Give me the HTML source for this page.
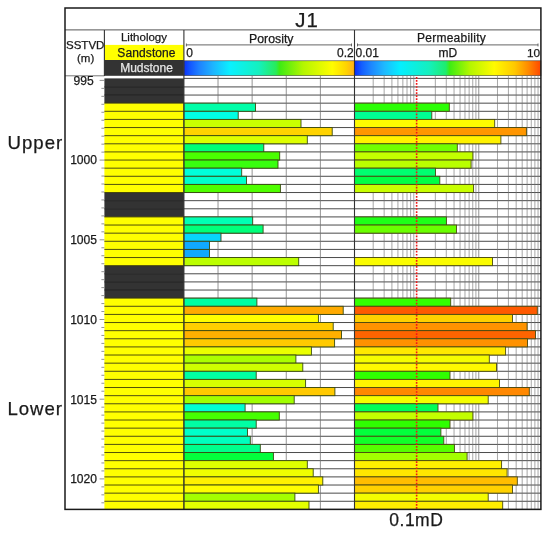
<!DOCTYPE html>
<html><head><meta charset="utf-8"><title>J1 well log</title>
<style>html,body{margin:0;padding:0;background:#fff}svg{display:block;will-change:transform;-webkit-font-smoothing:antialiased}</style></head>
<body>
<svg width="550" height="533" viewBox="0 0 550 533" font-family="Liberation Sans, Arial, sans-serif">
<defs>
<linearGradient id="gpor" x1="0" x2="1" y1="0" y2="0">
<stop offset="0.000" stop-color="#0a32fa"/>
<stop offset="0.040" stop-color="#145aff"/>
<stop offset="0.090" stop-color="#1e82ff"/>
<stop offset="0.170" stop-color="#1eb4ff"/>
<stop offset="0.270" stop-color="#0af0ff"/>
<stop offset="0.440" stop-color="#14f0be"/>
<stop offset="0.540" stop-color="#28eb5a"/>
<stop offset="0.560" stop-color="#3ceb14"/>
<stop offset="0.700" stop-color="#b4f600"/>
<stop offset="0.870" stop-color="#fffc00"/>
<stop offset="0.950" stop-color="#ffd400"/>
<stop offset="1.000" stop-color="#ffac18"/>
</linearGradient>
<linearGradient id="gperm" x1="0" x2="1" y1="0" y2="0">
<stop offset="0.000" stop-color="#0a2dfa"/>
<stop offset="0.040" stop-color="#145fff"/>
<stop offset="0.090" stop-color="#1e87ff"/>
<stop offset="0.160" stop-color="#1eb9ff"/>
<stop offset="0.245" stop-color="#05eeff"/>
<stop offset="0.400" stop-color="#14f0be"/>
<stop offset="0.490" stop-color="#1eec6e"/>
<stop offset="0.510" stop-color="#3cec14"/>
<stop offset="0.620" stop-color="#b4f600"/>
<stop offset="0.750" stop-color="#fffa00"/>
<stop offset="0.860" stop-color="#ffc800"/>
<stop offset="0.930" stop-color="#ff8c00"/>
<stop offset="1.000" stop-color="#ff4600"/>
</linearGradient>
</defs>
<rect width="550" height="533" fill="#fff"/>
<line x1="183.9" x2="540.9" y1="78.40" y2="78.40" stroke="#2a2a2a" stroke-width="0.85"/>
<line x1="183.9" x2="540.9" y1="86.92" y2="86.92" stroke="#2a2a2a" stroke-width="0.85"/>
<line x1="183.9" x2="540.9" y1="95.05" y2="95.05" stroke="#2a2a2a" stroke-width="0.85"/>
<line x1="183.9" x2="540.9" y1="103.17" y2="103.17" stroke="#2a2a2a" stroke-width="0.85"/>
<line x1="183.9" x2="540.9" y1="111.30" y2="111.30" stroke="#2a2a2a" stroke-width="0.85"/>
<line x1="183.9" x2="540.9" y1="119.42" y2="119.42" stroke="#2a2a2a" stroke-width="0.85"/>
<line x1="183.9" x2="540.9" y1="127.55" y2="127.55" stroke="#2a2a2a" stroke-width="0.85"/>
<line x1="183.9" x2="540.9" y1="135.67" y2="135.67" stroke="#2a2a2a" stroke-width="0.85"/>
<line x1="183.9" x2="540.9" y1="143.80" y2="143.80" stroke="#2a2a2a" stroke-width="0.85"/>
<line x1="183.9" x2="540.9" y1="151.92" y2="151.92" stroke="#2a2a2a" stroke-width="0.85"/>
<line x1="183.9" x2="540.9" y1="160.05" y2="160.05" stroke="#2a2a2a" stroke-width="0.85"/>
<line x1="183.9" x2="540.9" y1="168.17" y2="168.17" stroke="#2a2a2a" stroke-width="0.85"/>
<line x1="183.9" x2="540.9" y1="176.29" y2="176.29" stroke="#2a2a2a" stroke-width="0.85"/>
<line x1="183.9" x2="540.9" y1="184.42" y2="184.42" stroke="#2a2a2a" stroke-width="0.85"/>
<line x1="183.9" x2="540.9" y1="192.54" y2="192.54" stroke="#2a2a2a" stroke-width="0.85"/>
<line x1="183.9" x2="540.9" y1="200.67" y2="200.67" stroke="#2a2a2a" stroke-width="0.85"/>
<line x1="183.9" x2="540.9" y1="208.79" y2="208.79" stroke="#2a2a2a" stroke-width="0.85"/>
<line x1="183.9" x2="540.9" y1="216.92" y2="216.92" stroke="#2a2a2a" stroke-width="0.85"/>
<line x1="183.9" x2="540.9" y1="225.04" y2="225.04" stroke="#2a2a2a" stroke-width="0.85"/>
<line x1="183.9" x2="540.9" y1="233.17" y2="233.17" stroke="#2a2a2a" stroke-width="0.85"/>
<line x1="183.9" x2="540.9" y1="241.29" y2="241.29" stroke="#2a2a2a" stroke-width="0.85"/>
<line x1="183.9" x2="540.9" y1="249.42" y2="249.42" stroke="#2a2a2a" stroke-width="0.85"/>
<line x1="183.9" x2="540.9" y1="257.54" y2="257.54" stroke="#2a2a2a" stroke-width="0.85"/>
<line x1="183.9" x2="540.9" y1="265.66" y2="265.66" stroke="#2a2a2a" stroke-width="0.85"/>
<line x1="183.9" x2="540.9" y1="273.79" y2="273.79" stroke="#2a2a2a" stroke-width="0.85"/>
<line x1="183.9" x2="540.9" y1="281.91" y2="281.91" stroke="#2a2a2a" stroke-width="0.85"/>
<line x1="183.9" x2="540.9" y1="290.04" y2="290.04" stroke="#2a2a2a" stroke-width="0.85"/>
<line x1="183.9" x2="540.9" y1="298.16" y2="298.16" stroke="#2a2a2a" stroke-width="0.85"/>
<line x1="183.9" x2="540.9" y1="306.29" y2="306.29" stroke="#2a2a2a" stroke-width="0.85"/>
<line x1="183.9" x2="540.9" y1="314.41" y2="314.41" stroke="#2a2a2a" stroke-width="0.85"/>
<line x1="183.9" x2="540.9" y1="322.54" y2="322.54" stroke="#2a2a2a" stroke-width="0.85"/>
<line x1="183.9" x2="540.9" y1="330.66" y2="330.66" stroke="#2a2a2a" stroke-width="0.85"/>
<line x1="183.9" x2="540.9" y1="338.78" y2="338.78" stroke="#2a2a2a" stroke-width="0.85"/>
<line x1="183.9" x2="540.9" y1="346.91" y2="346.91" stroke="#2a2a2a" stroke-width="0.85"/>
<line x1="183.9" x2="540.9" y1="355.03" y2="355.03" stroke="#2a2a2a" stroke-width="0.85"/>
<line x1="183.9" x2="540.9" y1="363.16" y2="363.16" stroke="#2a2a2a" stroke-width="0.85"/>
<line x1="183.9" x2="540.9" y1="371.28" y2="371.28" stroke="#2a2a2a" stroke-width="0.85"/>
<line x1="183.9" x2="540.9" y1="379.41" y2="379.41" stroke="#2a2a2a" stroke-width="0.85"/>
<line x1="183.9" x2="540.9" y1="387.53" y2="387.53" stroke="#2a2a2a" stroke-width="0.85"/>
<line x1="183.9" x2="540.9" y1="395.66" y2="395.66" stroke="#2a2a2a" stroke-width="0.85"/>
<line x1="183.9" x2="540.9" y1="403.78" y2="403.78" stroke="#2a2a2a" stroke-width="0.85"/>
<line x1="183.9" x2="540.9" y1="411.91" y2="411.91" stroke="#2a2a2a" stroke-width="0.85"/>
<line x1="183.9" x2="540.9" y1="420.03" y2="420.03" stroke="#2a2a2a" stroke-width="0.85"/>
<line x1="183.9" x2="540.9" y1="428.15" y2="428.15" stroke="#2a2a2a" stroke-width="0.85"/>
<line x1="183.9" x2="540.9" y1="436.28" y2="436.28" stroke="#2a2a2a" stroke-width="0.85"/>
<line x1="183.9" x2="540.9" y1="444.40" y2="444.40" stroke="#2a2a2a" stroke-width="0.85"/>
<line x1="183.9" x2="540.9" y1="452.53" y2="452.53" stroke="#2a2a2a" stroke-width="0.85"/>
<line x1="183.9" x2="540.9" y1="460.65" y2="460.65" stroke="#2a2a2a" stroke-width="0.85"/>
<line x1="183.9" x2="540.9" y1="468.78" y2="468.78" stroke="#2a2a2a" stroke-width="0.85"/>
<line x1="183.9" x2="540.9" y1="476.90" y2="476.90" stroke="#2a2a2a" stroke-width="0.85"/>
<line x1="183.9" x2="540.9" y1="485.03" y2="485.03" stroke="#2a2a2a" stroke-width="0.85"/>
<line x1="183.9" x2="540.9" y1="493.15" y2="493.15" stroke="#2a2a2a" stroke-width="0.85"/>
<line x1="183.9" x2="540.9" y1="501.28" y2="501.28" stroke="#2a2a2a" stroke-width="0.85"/>
<line x1="183.9" x2="540.9" y1="509.40" y2="509.40" stroke="#2a2a2a" stroke-width="0.85"/>
<line x1="218.02" x2="218.02" y1="76.0" y2="509.4" stroke="#707070" stroke-width="0.75"/>
<line x1="252.14" x2="252.14" y1="76.0" y2="509.4" stroke="#707070" stroke-width="0.75"/>
<line x1="286.26" x2="286.26" y1="76.0" y2="509.4" stroke="#707070" stroke-width="0.75"/>
<line x1="320.38" x2="320.38" y1="76.0" y2="509.4" stroke="#707070" stroke-width="0.75"/>
<line x1="373.20" x2="373.20" y1="76.0" y2="509.4" stroke="#707070" stroke-width="0.62"/>
<line x1="384.15" x2="384.15" y1="76.0" y2="509.4" stroke="#707070" stroke-width="0.62"/>
<line x1="391.91" x2="391.91" y1="76.0" y2="509.4" stroke="#707070" stroke-width="0.62"/>
<line x1="397.93" x2="397.93" y1="76.0" y2="509.4" stroke="#707070" stroke-width="0.62"/>
<line x1="402.85" x2="402.85" y1="76.0" y2="509.4" stroke="#707070" stroke-width="0.62"/>
<line x1="407.01" x2="407.01" y1="76.0" y2="509.4" stroke="#707070" stroke-width="0.62"/>
<line x1="410.61" x2="410.61" y1="76.0" y2="509.4" stroke="#707070" stroke-width="0.62"/>
<line x1="413.79" x2="413.79" y1="76.0" y2="509.4" stroke="#707070" stroke-width="0.62"/>
<line x1="435.34" x2="435.34" y1="76.0" y2="509.4" stroke="#707070" stroke-width="0.62"/>
<line x1="446.28" x2="446.28" y1="76.0" y2="509.4" stroke="#707070" stroke-width="0.62"/>
<line x1="454.04" x2="454.04" y1="76.0" y2="509.4" stroke="#707070" stroke-width="0.62"/>
<line x1="460.06" x2="460.06" y1="76.0" y2="509.4" stroke="#707070" stroke-width="0.62"/>
<line x1="464.98" x2="464.98" y1="76.0" y2="509.4" stroke="#707070" stroke-width="0.62"/>
<line x1="469.14" x2="469.14" y1="76.0" y2="509.4" stroke="#707070" stroke-width="0.62"/>
<line x1="472.75" x2="472.75" y1="76.0" y2="509.4" stroke="#707070" stroke-width="0.62"/>
<line x1="475.92" x2="475.92" y1="76.0" y2="509.4" stroke="#707070" stroke-width="0.62"/>
<line x1="478.77" x2="478.77" y1="76.0" y2="509.4" stroke="#707070" stroke-width="0.75"/>
<line x1="497.47" x2="497.47" y1="76.0" y2="509.4" stroke="#707070" stroke-width="0.62"/>
<line x1="508.41" x2="508.41" y1="76.0" y2="509.4" stroke="#707070" stroke-width="0.62"/>
<line x1="516.17" x2="516.17" y1="76.0" y2="509.4" stroke="#707070" stroke-width="0.62"/>
<line x1="522.20" x2="522.20" y1="76.0" y2="509.4" stroke="#707070" stroke-width="0.62"/>
<line x1="527.12" x2="527.12" y1="76.0" y2="509.4" stroke="#707070" stroke-width="0.62"/>
<line x1="531.28" x2="531.28" y1="76.0" y2="509.4" stroke="#707070" stroke-width="0.62"/>
<line x1="534.88" x2="534.88" y1="76.0" y2="509.4" stroke="#707070" stroke-width="0.62"/>
<line x1="538.06" x2="538.06" y1="76.0" y2="509.4" stroke="#707070" stroke-width="0.62"/>
<rect x="104.4" y="78.40" width="79.5" height="8.52" fill="#333" />
<rect x="104.4" y="86.92" width="79.5" height="8.12" fill="#333" />
<rect x="104.4" y="95.05" width="79.5" height="8.12" fill="#333" />
<rect x="104.4" y="103.17" width="79.5" height="8.12" fill="#ffff00"/>
<rect x="104.4" y="111.30" width="79.5" height="8.12" fill="#ffff00"/>
<rect x="104.4" y="119.42" width="79.5" height="8.12" fill="#ffff00"/>
<rect x="104.4" y="127.55" width="79.5" height="8.12" fill="#ffff00"/>
<rect x="104.4" y="135.67" width="79.5" height="8.12" fill="#ffff00"/>
<rect x="104.4" y="143.80" width="79.5" height="8.12" fill="#ffff00"/>
<rect x="104.4" y="151.92" width="79.5" height="8.12" fill="#ffff00"/>
<rect x="104.4" y="160.05" width="79.5" height="8.12" fill="#ffff00"/>
<rect x="104.4" y="168.17" width="79.5" height="8.12" fill="#ffff00"/>
<rect x="104.4" y="176.29" width="79.5" height="8.12" fill="#ffff00"/>
<rect x="104.4" y="184.42" width="79.5" height="8.12" fill="#ffff00"/>
<rect x="104.4" y="192.54" width="79.5" height="8.12" fill="#333" />
<rect x="104.4" y="200.67" width="79.5" height="8.12" fill="#333" />
<rect x="104.4" y="208.79" width="79.5" height="8.12" fill="#333" />
<rect x="104.4" y="216.92" width="79.5" height="8.12" fill="#ffff00"/>
<rect x="104.4" y="225.04" width="79.5" height="8.12" fill="#ffff00"/>
<rect x="104.4" y="233.17" width="79.5" height="8.12" fill="#ffff00"/>
<rect x="104.4" y="241.29" width="79.5" height="8.12" fill="#ffff00"/>
<rect x="104.4" y="249.42" width="79.5" height="8.12" fill="#ffff00"/>
<rect x="104.4" y="257.54" width="79.5" height="8.12" fill="#ffff00"/>
<rect x="104.4" y="265.66" width="79.5" height="8.12" fill="#333" />
<rect x="104.4" y="273.79" width="79.5" height="8.12" fill="#333" />
<rect x="104.4" y="281.91" width="79.5" height="8.12" fill="#333" />
<rect x="104.4" y="290.04" width="79.5" height="8.12" fill="#333" />
<rect x="104.4" y="298.16" width="79.5" height="8.12" fill="#ffff00"/>
<rect x="104.4" y="306.29" width="79.5" height="8.12" fill="#ffff00"/>
<rect x="104.4" y="314.41" width="79.5" height="8.12" fill="#ffff00"/>
<rect x="104.4" y="322.54" width="79.5" height="8.12" fill="#ffff00"/>
<rect x="104.4" y="330.66" width="79.5" height="8.12" fill="#ffff00"/>
<rect x="104.4" y="338.78" width="79.5" height="8.12" fill="#ffff00"/>
<rect x="104.4" y="346.91" width="79.5" height="8.12" fill="#ffff00"/>
<rect x="104.4" y="355.03" width="79.5" height="8.12" fill="#ffff00"/>
<rect x="104.4" y="363.16" width="79.5" height="8.12" fill="#ffff00"/>
<rect x="104.4" y="371.28" width="79.5" height="8.12" fill="#ffff00"/>
<rect x="104.4" y="379.41" width="79.5" height="8.12" fill="#ffff00"/>
<rect x="104.4" y="387.53" width="79.5" height="8.12" fill="#ffff00"/>
<rect x="104.4" y="395.66" width="79.5" height="8.12" fill="#ffff00"/>
<rect x="104.4" y="403.78" width="79.5" height="8.12" fill="#ffff00"/>
<rect x="104.4" y="411.91" width="79.5" height="8.12" fill="#ffff00"/>
<rect x="104.4" y="420.03" width="79.5" height="8.12" fill="#ffff00"/>
<rect x="104.4" y="428.15" width="79.5" height="8.12" fill="#ffff00"/>
<rect x="104.4" y="436.28" width="79.5" height="8.12" fill="#ffff00"/>
<rect x="104.4" y="444.40" width="79.5" height="8.12" fill="#ffff00"/>
<rect x="104.4" y="452.53" width="79.5" height="8.12" fill="#ffff00"/>
<rect x="104.4" y="460.65" width="79.5" height="8.12" fill="#ffff00"/>
<rect x="104.4" y="468.78" width="79.5" height="8.12" fill="#ffff00"/>
<rect x="104.4" y="476.90" width="79.5" height="8.12" fill="#ffff00"/>
<rect x="104.4" y="485.03" width="79.5" height="8.12" fill="#ffff00"/>
<rect x="104.4" y="493.15" width="79.5" height="8.12" fill="#ffff00"/>
<rect x="104.4" y="501.28" width="79.5" height="8.12" fill="#ffff00"/>
<line x1="104.4" x2="183.9" y1="86.92" y2="86.92" stroke="#1d1d1d" stroke-width="0.9"/>
<line x1="104.4" x2="183.9" y1="95.05" y2="95.05" stroke="#1d1d1d" stroke-width="0.9"/>
<line x1="104.4" x2="183.9" y1="103.17" y2="103.17" stroke="#3c3c00" stroke-width="0.9"/>
<line x1="104.4" x2="183.9" y1="111.30" y2="111.30" stroke="#3c3c00" stroke-width="0.9"/>
<line x1="104.4" x2="183.9" y1="119.42" y2="119.42" stroke="#3c3c00" stroke-width="0.9"/>
<line x1="104.4" x2="183.9" y1="127.55" y2="127.55" stroke="#3c3c00" stroke-width="0.9"/>
<line x1="104.4" x2="183.9" y1="135.67" y2="135.67" stroke="#3c3c00" stroke-width="0.9"/>
<line x1="104.4" x2="183.9" y1="143.80" y2="143.80" stroke="#3c3c00" stroke-width="0.9"/>
<line x1="104.4" x2="183.9" y1="151.92" y2="151.92" stroke="#3c3c00" stroke-width="0.9"/>
<line x1="104.4" x2="183.9" y1="160.05" y2="160.05" stroke="#3c3c00" stroke-width="0.9"/>
<line x1="104.4" x2="183.9" y1="168.17" y2="168.17" stroke="#3c3c00" stroke-width="0.9"/>
<line x1="104.4" x2="183.9" y1="176.29" y2="176.29" stroke="#3c3c00" stroke-width="0.9"/>
<line x1="104.4" x2="183.9" y1="184.42" y2="184.42" stroke="#3c3c00" stroke-width="0.9"/>
<line x1="104.4" x2="183.9" y1="192.54" y2="192.54" stroke="#3c3c00" stroke-width="0.9"/>
<line x1="104.4" x2="183.9" y1="200.67" y2="200.67" stroke="#1d1d1d" stroke-width="0.9"/>
<line x1="104.4" x2="183.9" y1="208.79" y2="208.79" stroke="#1d1d1d" stroke-width="0.9"/>
<line x1="104.4" x2="183.9" y1="216.92" y2="216.92" stroke="#3c3c00" stroke-width="0.9"/>
<line x1="104.4" x2="183.9" y1="225.04" y2="225.04" stroke="#3c3c00" stroke-width="0.9"/>
<line x1="104.4" x2="183.9" y1="233.17" y2="233.17" stroke="#3c3c00" stroke-width="0.9"/>
<line x1="104.4" x2="183.9" y1="241.29" y2="241.29" stroke="#3c3c00" stroke-width="0.9"/>
<line x1="104.4" x2="183.9" y1="249.42" y2="249.42" stroke="#3c3c00" stroke-width="0.9"/>
<line x1="104.4" x2="183.9" y1="257.54" y2="257.54" stroke="#3c3c00" stroke-width="0.9"/>
<line x1="104.4" x2="183.9" y1="265.66" y2="265.66" stroke="#3c3c00" stroke-width="0.9"/>
<line x1="104.4" x2="183.9" y1="273.79" y2="273.79" stroke="#1d1d1d" stroke-width="0.9"/>
<line x1="104.4" x2="183.9" y1="281.91" y2="281.91" stroke="#1d1d1d" stroke-width="0.9"/>
<line x1="104.4" x2="183.9" y1="290.04" y2="290.04" stroke="#1d1d1d" stroke-width="0.9"/>
<line x1="104.4" x2="183.9" y1="298.16" y2="298.16" stroke="#3c3c00" stroke-width="0.9"/>
<line x1="104.4" x2="183.9" y1="306.29" y2="306.29" stroke="#3c3c00" stroke-width="0.9"/>
<line x1="104.4" x2="183.9" y1="314.41" y2="314.41" stroke="#3c3c00" stroke-width="0.9"/>
<line x1="104.4" x2="183.9" y1="322.54" y2="322.54" stroke="#3c3c00" stroke-width="0.9"/>
<line x1="104.4" x2="183.9" y1="330.66" y2="330.66" stroke="#3c3c00" stroke-width="0.9"/>
<line x1="104.4" x2="183.9" y1="338.78" y2="338.78" stroke="#3c3c00" stroke-width="0.9"/>
<line x1="104.4" x2="183.9" y1="346.91" y2="346.91" stroke="#3c3c00" stroke-width="0.9"/>
<line x1="104.4" x2="183.9" y1="355.03" y2="355.03" stroke="#3c3c00" stroke-width="0.9"/>
<line x1="104.4" x2="183.9" y1="363.16" y2="363.16" stroke="#3c3c00" stroke-width="0.9"/>
<line x1="104.4" x2="183.9" y1="371.28" y2="371.28" stroke="#3c3c00" stroke-width="0.9"/>
<line x1="104.4" x2="183.9" y1="379.41" y2="379.41" stroke="#3c3c00" stroke-width="0.9"/>
<line x1="104.4" x2="183.9" y1="387.53" y2="387.53" stroke="#3c3c00" stroke-width="0.9"/>
<line x1="104.4" x2="183.9" y1="395.66" y2="395.66" stroke="#3c3c00" stroke-width="0.9"/>
<line x1="104.4" x2="183.9" y1="403.78" y2="403.78" stroke="#3c3c00" stroke-width="0.9"/>
<line x1="104.4" x2="183.9" y1="411.91" y2="411.91" stroke="#3c3c00" stroke-width="0.9"/>
<line x1="104.4" x2="183.9" y1="420.03" y2="420.03" stroke="#3c3c00" stroke-width="0.9"/>
<line x1="104.4" x2="183.9" y1="428.15" y2="428.15" stroke="#3c3c00" stroke-width="0.9"/>
<line x1="104.4" x2="183.9" y1="436.28" y2="436.28" stroke="#3c3c00" stroke-width="0.9"/>
<line x1="104.4" x2="183.9" y1="444.40" y2="444.40" stroke="#3c3c00" stroke-width="0.9"/>
<line x1="104.4" x2="183.9" y1="452.53" y2="452.53" stroke="#3c3c00" stroke-width="0.9"/>
<line x1="104.4" x2="183.9" y1="460.65" y2="460.65" stroke="#3c3c00" stroke-width="0.9"/>
<line x1="104.4" x2="183.9" y1="468.78" y2="468.78" stroke="#3c3c00" stroke-width="0.9"/>
<line x1="104.4" x2="183.9" y1="476.90" y2="476.90" stroke="#3c3c00" stroke-width="0.9"/>
<line x1="104.4" x2="183.9" y1="485.03" y2="485.03" stroke="#3c3c00" stroke-width="0.9"/>
<line x1="104.4" x2="183.9" y1="493.15" y2="493.15" stroke="#3c3c00" stroke-width="0.9"/>
<line x1="104.4" x2="183.9" y1="501.28" y2="501.28" stroke="#3c3c00" stroke-width="0.9"/>
<rect x="183.9" y="103.17" width="71.6" height="8.12" fill="#00ffa8" stroke="#3a4a10" stroke-width="0.9"/>
<rect x="183.9" y="111.30" width="54.3" height="8.12" fill="#00ffe5" stroke="#3a4a10" stroke-width="0.9"/>
<rect x="183.9" y="119.42" width="117.1" height="8.12" fill="#c9ff00" stroke="#3a4a10" stroke-width="0.9"/>
<rect x="183.9" y="127.55" width="148.3" height="8.12" fill="#ffd300" stroke="#3a4a10" stroke-width="0.9"/>
<rect x="183.9" y="135.67" width="123.4" height="8.12" fill="#deff00" stroke="#3a4a10" stroke-width="0.9"/>
<rect x="183.9" y="143.80" width="79.9" height="8.12" fill="#00ff77" stroke="#3a4a10" stroke-width="0.9"/>
<rect x="183.9" y="151.92" width="95.8" height="8.12" fill="#4aff00" stroke="#3a4a10" stroke-width="0.9"/>
<rect x="183.9" y="160.05" width="94.1" height="8.12" fill="#38ff0f" stroke="#3a4a10" stroke-width="0.9"/>
<rect x="183.9" y="168.17" width="57.8" height="8.12" fill="#00ffdb" stroke="#3a4a10" stroke-width="0.9"/>
<rect x="183.9" y="176.29" width="62.6" height="8.12" fill="#00ffcd" stroke="#3a4a10" stroke-width="0.9"/>
<rect x="183.9" y="184.42" width="96.5" height="8.12" fill="#4eff00" stroke="#3a4a10" stroke-width="0.9"/>
<rect x="183.9" y="216.92" width="68.8" height="8.12" fill="#00ffb4" stroke="#3a4a10" stroke-width="0.9"/>
<rect x="183.9" y="225.04" width="79.2" height="8.12" fill="#00ff7b" stroke="#3a4a10" stroke-width="0.9"/>
<rect x="183.9" y="233.17" width="37.1" height="8.12" fill="#08d5fe" stroke="#3a4a10" stroke-width="0.9"/>
<rect x="183.9" y="241.29" width="25.6" height="8.12" fill="#10a9ff" stroke="#3a4a10" stroke-width="0.9"/>
<rect x="183.9" y="249.42" width="25.6" height="8.12" fill="#10a9ff" stroke="#3a4a10" stroke-width="0.9"/>
<rect x="183.9" y="257.54" width="114.8" height="8.12" fill="#bcff00" stroke="#3a4a10" stroke-width="0.9"/>
<rect x="183.9" y="298.16" width="73.0" height="8.12" fill="#00ffa0" stroke="#3a4a10" stroke-width="0.9"/>
<rect x="183.9" y="306.29" width="159.3" height="8.12" fill="#ffaa00" stroke="#3a4a10" stroke-width="0.9"/>
<rect x="183.9" y="314.41" width="134.5" height="8.12" fill="#fffe00" stroke="#3a4a10" stroke-width="0.9"/>
<rect x="183.9" y="322.54" width="149.3" height="8.12" fill="#ffcf00" stroke="#3a4a10" stroke-width="0.9"/>
<rect x="183.9" y="330.66" width="157.6" height="8.12" fill="#ffb000" stroke="#3a4a10" stroke-width="0.9"/>
<rect x="183.9" y="338.78" width="150.7" height="8.12" fill="#ffca00" stroke="#3a4a10" stroke-width="0.9"/>
<rect x="183.9" y="346.91" width="127.5" height="8.12" fill="#eaff00" stroke="#3a4a10" stroke-width="0.9"/>
<rect x="183.9" y="355.03" width="112.0" height="8.12" fill="#abff00" stroke="#3a4a10" stroke-width="0.9"/>
<rect x="183.9" y="363.16" width="118.9" height="8.12" fill="#cfff00" stroke="#3a4a10" stroke-width="0.9"/>
<rect x="183.9" y="371.28" width="72.3" height="8.12" fill="#00ffa4" stroke="#3a4a10" stroke-width="0.9"/>
<rect x="183.9" y="379.41" width="121.7" height="8.12" fill="#d8ff00" stroke="#3a4a10" stroke-width="0.9"/>
<rect x="183.9" y="387.53" width="151.0" height="8.12" fill="#ffc900" stroke="#3a4a10" stroke-width="0.9"/>
<rect x="183.9" y="395.66" width="110.3" height="8.12" fill="#a1ff00" stroke="#3a4a10" stroke-width="0.9"/>
<rect x="183.9" y="403.78" width="61.2" height="8.12" fill="#00ffd1" stroke="#3a4a10" stroke-width="0.9"/>
<rect x="183.9" y="411.91" width="95.4" height="8.12" fill="#46ff01" stroke="#3a4a10" stroke-width="0.9"/>
<rect x="183.9" y="420.03" width="72.3" height="8.12" fill="#00ffa4" stroke="#3a4a10" stroke-width="0.9"/>
<rect x="183.9" y="428.15" width="63.6" height="8.12" fill="#00ffca" stroke="#3a4a10" stroke-width="0.9"/>
<rect x="183.9" y="436.28" width="66.4" height="8.12" fill="#00ffbe" stroke="#3a4a10" stroke-width="0.9"/>
<rect x="183.9" y="444.40" width="76.4" height="8.12" fill="#00ff8c" stroke="#3a4a10" stroke-width="0.9"/>
<rect x="183.9" y="452.53" width="89.5" height="8.12" fill="#03ff3d" stroke="#3a4a10" stroke-width="0.9"/>
<rect x="183.9" y="460.65" width="123.4" height="8.12" fill="#deff00" stroke="#3a4a10" stroke-width="0.9"/>
<rect x="183.9" y="468.78" width="129.3" height="8.12" fill="#f0ff00" stroke="#3a4a10" stroke-width="0.9"/>
<rect x="183.9" y="476.90" width="138.9" height="8.12" fill="#fff100" stroke="#3a4a10" stroke-width="0.9"/>
<rect x="183.9" y="485.03" width="134.5" height="8.12" fill="#fffe00" stroke="#3a4a10" stroke-width="0.9"/>
<rect x="183.9" y="493.15" width="111.0" height="8.12" fill="#a5ff00" stroke="#3a4a10" stroke-width="0.9"/>
<rect x="183.9" y="501.28" width="125.1" height="8.12" fill="#e3ff00" stroke="#3a4a10" stroke-width="0.9"/>
<rect x="354.5" y="103.17" width="94.8" height="8.12" fill="#2cff05" stroke="#4a4a10" stroke-width="0.9"/>
<rect x="354.5" y="111.30" width="77.3" height="8.12" fill="#00ff92" stroke="#4a4a10" stroke-width="0.9"/>
<rect x="354.5" y="119.42" width="140.2" height="8.12" fill="#fdfb00" stroke="#4a4a10" stroke-width="0.9"/>
<rect x="354.5" y="127.55" width="171.9" height="8.12" fill="#ff9600" stroke="#4a4a10" stroke-width="0.9"/>
<rect x="354.5" y="135.67" width="146.4" height="8.12" fill="#fff200" stroke="#4a4a10" stroke-width="0.9"/>
<rect x="354.5" y="143.80" width="102.8" height="8.12" fill="#70ff00" stroke="#4a4a10" stroke-width="0.9"/>
<rect x="354.5" y="151.92" width="118.4" height="8.12" fill="#c3ff00" stroke="#4a4a10" stroke-width="0.9"/>
<rect x="354.5" y="160.05" width="116.6" height="8.12" fill="#b9ff00" stroke="#4a4a10" stroke-width="0.9"/>
<rect x="354.5" y="168.17" width="81.0" height="8.12" fill="#00ff70" stroke="#4a4a10" stroke-width="0.9"/>
<rect x="354.5" y="176.29" width="85.3" height="8.12" fill="#00ff45" stroke="#4a4a10" stroke-width="0.9"/>
<rect x="354.5" y="184.42" width="119.1" height="8.12" fill="#c7ff00" stroke="#4a4a10" stroke-width="0.9"/>
<rect x="354.5" y="216.92" width="91.9" height="8.12" fill="#1eff18" stroke="#4a4a10" stroke-width="0.9"/>
<rect x="354.5" y="225.04" width="102.0" height="8.12" fill="#69ff00" stroke="#4a4a10" stroke-width="0.9"/>
<rect x="354.5" y="257.54" width="138.0" height="8.12" fill="#fafc00" stroke="#4a4a10" stroke-width="0.9"/>
<rect x="354.5" y="298.16" width="96.2" height="8.12" fill="#35ff00" stroke="#4a4a10" stroke-width="0.9"/>
<rect x="354.5" y="306.29" width="182.8" height="8.12" fill="#ff5a00" stroke="#4a4a10" stroke-width="0.9"/>
<rect x="354.5" y="314.41" width="158.0" height="8.12" fill="#ffd100" stroke="#4a4a10" stroke-width="0.9"/>
<rect x="354.5" y="322.54" width="172.6" height="8.12" fill="#ff9300" stroke="#4a4a10" stroke-width="0.9"/>
<rect x="354.5" y="330.66" width="181.0" height="8.12" fill="#ff6400" stroke="#4a4a10" stroke-width="0.9"/>
<rect x="354.5" y="338.78" width="173.0" height="8.12" fill="#ff9200" stroke="#4a4a10" stroke-width="0.9"/>
<rect x="354.5" y="346.91" width="151.1" height="8.12" fill="#ffe900" stroke="#4a4a10" stroke-width="0.9"/>
<rect x="354.5" y="355.03" width="134.8" height="8.12" fill="#f6fd00" stroke="#4a4a10" stroke-width="0.9"/>
<rect x="354.5" y="363.16" width="142.0" height="8.12" fill="#fff900" stroke="#4a4a10" stroke-width="0.9"/>
<rect x="354.5" y="371.28" width="95.5" height="8.12" fill="#2fff01" stroke="#4a4a10" stroke-width="0.9"/>
<rect x="354.5" y="379.41" width="145.0" height="8.12" fill="#fff400" stroke="#4a4a10" stroke-width="0.9"/>
<rect x="354.5" y="387.53" width="174.8" height="8.12" fill="#ff8800" stroke="#4a4a10" stroke-width="0.9"/>
<rect x="354.5" y="395.66" width="133.7" height="8.12" fill="#f4fe00" stroke="#4a4a10" stroke-width="0.9"/>
<rect x="354.5" y="403.78" width="83.5" height="8.12" fill="#00ff57" stroke="#4a4a10" stroke-width="0.9"/>
<rect x="354.5" y="411.91" width="118.4" height="8.12" fill="#c3ff00" stroke="#4a4a10" stroke-width="0.9"/>
<rect x="354.5" y="420.03" width="95.5" height="8.12" fill="#2fff01" stroke="#4a4a10" stroke-width="0.9"/>
<rect x="354.5" y="428.15" width="86.4" height="8.12" fill="#03ff3c" stroke="#4a4a10" stroke-width="0.9"/>
<rect x="354.5" y="436.28" width="89.3" height="8.12" fill="#11ff29" stroke="#4a4a10" stroke-width="0.9"/>
<rect x="354.5" y="444.40" width="99.9" height="8.12" fill="#56ff00" stroke="#4a4a10" stroke-width="0.9"/>
<rect x="354.5" y="452.53" width="112.6" height="8.12" fill="#a3ff00" stroke="#4a4a10" stroke-width="0.9"/>
<rect x="354.5" y="460.65" width="147.1" height="8.12" fill="#fff000" stroke="#4a4a10" stroke-width="0.9"/>
<rect x="354.5" y="468.78" width="152.6" height="8.12" fill="#ffe600" stroke="#4a4a10" stroke-width="0.9"/>
<rect x="354.5" y="476.90" width="162.8" height="8.12" fill="#ffbd00" stroke="#4a4a10" stroke-width="0.9"/>
<rect x="354.5" y="485.03" width="158.0" height="8.12" fill="#ffd100" stroke="#4a4a10" stroke-width="0.9"/>
<rect x="354.5" y="493.15" width="133.7" height="8.12" fill="#f4fe00" stroke="#4a4a10" stroke-width="0.9"/>
<rect x="354.5" y="501.28" width="148.2" height="8.12" fill="#ffee00" stroke="#4a4a10" stroke-width="0.9"/>
<line x1="416.63" x2="416.63" y1="77.0" y2="509.4" stroke="#f01818" stroke-width="1.6" stroke-dasharray="1.7 1.35"/>
<rect x="65.0" y="8.0" width="475.9" height="68.0" fill="#fff"/>
<rect x="104.4" y="44.9" width="79.5" height="15.1" fill="#ffff00"/>
<rect x="104.4" y="60" width="79.5" height="15.8" fill="#333"/>
<rect x="183.9" y="60.8" width="170.6" height="14.9" fill="url(#gpor)" stroke="#444" stroke-width="0.6"/>
<rect x="354.5" y="60.8" width="186.4" height="14.9" fill="url(#gperm)" stroke="#444" stroke-width="0.6"/>
<line x1="65.0" x2="540.9" y1="29.9" y2="29.9" stroke="#555" stroke-width="1"/>
<line x1="65.0" x2="104.4" y1="75.8" y2="75.8" stroke="#777" stroke-width="1"/>
<path d="M186.4 43.5V46.4M186.4 44.9H351.5M351.5 43.5V46.4" stroke="#555" stroke-width="0.9" fill="none"/>
<path d="M357.5 43.5V46.4M357.5 44.9H538.0M538.0 43.5V46.4" stroke="#555" stroke-width="0.9" fill="none"/>
<line x1="104.4" x2="104.4" y1="29.9" y2="76.0" stroke="#333" stroke-width="1.1"/>
<line x1="183.9" x2="183.9" y1="29.9" y2="509.4" stroke="#333" stroke-width="1.1"/>
<line x1="354.5" x2="354.5" y1="29.9" y2="509.4" stroke="#333" stroke-width="1.1"/>
<line x1="99.6" x2="104.4" y1="80.40" y2="80.40" stroke="#777" stroke-width="0.8"/>
<line x1="101.4" x2="104.4" y1="88.37" y2="88.37" stroke="#777" stroke-width="0.8"/>
<line x1="101.4" x2="104.4" y1="96.34" y2="96.34" stroke="#777" stroke-width="0.8"/>
<line x1="101.4" x2="104.4" y1="104.31" y2="104.31" stroke="#777" stroke-width="0.8"/>
<line x1="101.4" x2="104.4" y1="112.28" y2="112.28" stroke="#777" stroke-width="0.8"/>
<line x1="101.4" x2="104.4" y1="120.25" y2="120.25" stroke="#777" stroke-width="0.8"/>
<line x1="101.4" x2="104.4" y1="128.22" y2="128.22" stroke="#777" stroke-width="0.8"/>
<line x1="101.4" x2="104.4" y1="136.19" y2="136.19" stroke="#777" stroke-width="0.8"/>
<line x1="101.4" x2="104.4" y1="144.16" y2="144.16" stroke="#777" stroke-width="0.8"/>
<line x1="101.4" x2="104.4" y1="152.13" y2="152.13" stroke="#777" stroke-width="0.8"/>
<line x1="99.6" x2="104.4" y1="160.10" y2="160.10" stroke="#777" stroke-width="0.8"/>
<line x1="101.4" x2="104.4" y1="168.07" y2="168.07" stroke="#777" stroke-width="0.8"/>
<line x1="101.4" x2="104.4" y1="176.04" y2="176.04" stroke="#777" stroke-width="0.8"/>
<line x1="101.4" x2="104.4" y1="184.01" y2="184.01" stroke="#777" stroke-width="0.8"/>
<line x1="101.4" x2="104.4" y1="191.98" y2="191.98" stroke="#777" stroke-width="0.8"/>
<line x1="101.4" x2="104.4" y1="199.95" y2="199.95" stroke="#777" stroke-width="0.8"/>
<line x1="101.4" x2="104.4" y1="207.92" y2="207.92" stroke="#777" stroke-width="0.8"/>
<line x1="101.4" x2="104.4" y1="215.89" y2="215.89" stroke="#777" stroke-width="0.8"/>
<line x1="101.4" x2="104.4" y1="223.86" y2="223.86" stroke="#777" stroke-width="0.8"/>
<line x1="101.4" x2="104.4" y1="231.83" y2="231.83" stroke="#777" stroke-width="0.8"/>
<line x1="99.6" x2="104.4" y1="239.80" y2="239.80" stroke="#777" stroke-width="0.8"/>
<line x1="101.4" x2="104.4" y1="247.77" y2="247.77" stroke="#777" stroke-width="0.8"/>
<line x1="101.4" x2="104.4" y1="255.74" y2="255.74" stroke="#777" stroke-width="0.8"/>
<line x1="101.4" x2="104.4" y1="263.71" y2="263.71" stroke="#777" stroke-width="0.8"/>
<line x1="101.4" x2="104.4" y1="271.68" y2="271.68" stroke="#777" stroke-width="0.8"/>
<line x1="101.4" x2="104.4" y1="279.65" y2="279.65" stroke="#777" stroke-width="0.8"/>
<line x1="101.4" x2="104.4" y1="287.62" y2="287.62" stroke="#777" stroke-width="0.8"/>
<line x1="101.4" x2="104.4" y1="295.59" y2="295.59" stroke="#777" stroke-width="0.8"/>
<line x1="101.4" x2="104.4" y1="303.56" y2="303.56" stroke="#777" stroke-width="0.8"/>
<line x1="101.4" x2="104.4" y1="311.53" y2="311.53" stroke="#777" stroke-width="0.8"/>
<line x1="99.6" x2="104.4" y1="319.50" y2="319.50" stroke="#777" stroke-width="0.8"/>
<line x1="101.4" x2="104.4" y1="327.47" y2="327.47" stroke="#777" stroke-width="0.8"/>
<line x1="101.4" x2="104.4" y1="335.44" y2="335.44" stroke="#777" stroke-width="0.8"/>
<line x1="101.4" x2="104.4" y1="343.41" y2="343.41" stroke="#777" stroke-width="0.8"/>
<line x1="101.4" x2="104.4" y1="351.38" y2="351.38" stroke="#777" stroke-width="0.8"/>
<line x1="101.4" x2="104.4" y1="359.35" y2="359.35" stroke="#777" stroke-width="0.8"/>
<line x1="101.4" x2="104.4" y1="367.32" y2="367.32" stroke="#777" stroke-width="0.8"/>
<line x1="101.4" x2="104.4" y1="375.29" y2="375.29" stroke="#777" stroke-width="0.8"/>
<line x1="101.4" x2="104.4" y1="383.26" y2="383.26" stroke="#777" stroke-width="0.8"/>
<line x1="101.4" x2="104.4" y1="391.23" y2="391.23" stroke="#777" stroke-width="0.8"/>
<line x1="99.6" x2="104.4" y1="399.20" y2="399.20" stroke="#777" stroke-width="0.8"/>
<line x1="101.4" x2="104.4" y1="407.17" y2="407.17" stroke="#777" stroke-width="0.8"/>
<line x1="101.4" x2="104.4" y1="415.14" y2="415.14" stroke="#777" stroke-width="0.8"/>
<line x1="101.4" x2="104.4" y1="423.11" y2="423.11" stroke="#777" stroke-width="0.8"/>
<line x1="101.4" x2="104.4" y1="431.08" y2="431.08" stroke="#777" stroke-width="0.8"/>
<line x1="101.4" x2="104.4" y1="439.05" y2="439.05" stroke="#777" stroke-width="0.8"/>
<line x1="101.4" x2="104.4" y1="447.02" y2="447.02" stroke="#777" stroke-width="0.8"/>
<line x1="101.4" x2="104.4" y1="454.99" y2="454.99" stroke="#777" stroke-width="0.8"/>
<line x1="101.4" x2="104.4" y1="462.96" y2="462.96" stroke="#777" stroke-width="0.8"/>
<line x1="101.4" x2="104.4" y1="470.93" y2="470.93" stroke="#777" stroke-width="0.8"/>
<line x1="99.6" x2="104.4" y1="478.90" y2="478.90" stroke="#777" stroke-width="0.8"/>
<line x1="101.4" x2="104.4" y1="486.87" y2="486.87" stroke="#777" stroke-width="0.8"/>
<line x1="101.4" x2="104.4" y1="494.84" y2="494.84" stroke="#777" stroke-width="0.8"/>
<line x1="101.4" x2="104.4" y1="502.81" y2="502.81" stroke="#777" stroke-width="0.8"/>
<text x="83.6" y="84.7" font-size="12.1" text-anchor="middle" fill="#1a1a1a" stroke="#1a1a1a" stroke-width="0.25">995</text>
<text x="83.6" y="164.4" font-size="12.1" text-anchor="middle" fill="#1a1a1a" stroke="#1a1a1a" stroke-width="0.25">1000</text>
<text x="83.6" y="244.1" font-size="12.1" text-anchor="middle" fill="#1a1a1a" stroke="#1a1a1a" stroke-width="0.25">1005</text>
<text x="83.6" y="323.8" font-size="12.1" text-anchor="middle" fill="#1a1a1a" stroke="#1a1a1a" stroke-width="0.25">1010</text>
<text x="83.6" y="403.5" font-size="12.1" text-anchor="middle" fill="#1a1a1a" stroke="#1a1a1a" stroke-width="0.25">1015</text>
<text x="83.6" y="483.2" font-size="12.1" text-anchor="middle" fill="#1a1a1a" stroke="#1a1a1a" stroke-width="0.25">1020</text>
<rect x="65.0" y="8.0" width="475.9" height="501.4" fill="none" stroke="#1a1a1a" stroke-width="1.5"/>
<g fill="#1a1a1a" stroke="#1a1a1a" stroke-width="0.25">
<text x="307.2" y="26.6" font-size="20.4" text-anchor="middle" letter-spacing="1.1">J1</text>
<text x="85.2" y="49.4" font-size="11.5" text-anchor="middle">SSTVD</text>
<text x="85.6" y="62.3" font-size="11.5" text-anchor="middle">(m)</text>
<text x="144" y="40.9" font-size="11.5" text-anchor="middle">Lithology</text>
<text x="146.5" y="56.9" font-size="12" text-anchor="middle" letter-spacing="0.1">Sandstone</text>
<text x="146.5" y="72.2" font-size="12" text-anchor="middle" fill="#e6e6e6" stroke="#e6e6e6">Mudstone</text>
<text x="271.3" y="42.6" font-size="12.3" text-anchor="middle">Porosity</text>
<text x="186.3" y="56.9" font-size="12">0</text>
<text x="353.8" y="56.9" font-size="12" text-anchor="end">0.2</text>
<text x="451.5" y="41.5" font-size="12" letter-spacing="0.25" text-anchor="middle">Permeability</text>
<text x="355.5" y="56.9" font-size="12">0.01</text>
<text x="447.9" y="56.7" font-size="12" text-anchor="middle">mD</text>
<text x="540.2" y="56.6" font-size="11.8" text-anchor="end">10</text>
<text x="7.6" y="148.8" font-size="18.6" letter-spacing="1.0">Upper</text>
<text x="7.4" y="414.9" font-size="18.6" letter-spacing="1.0">Lower</text>
<text x="389.3" y="525.6" font-size="17.5" letter-spacing="0.5">0.1mD</text>
</g>
</svg>
</body></html>
